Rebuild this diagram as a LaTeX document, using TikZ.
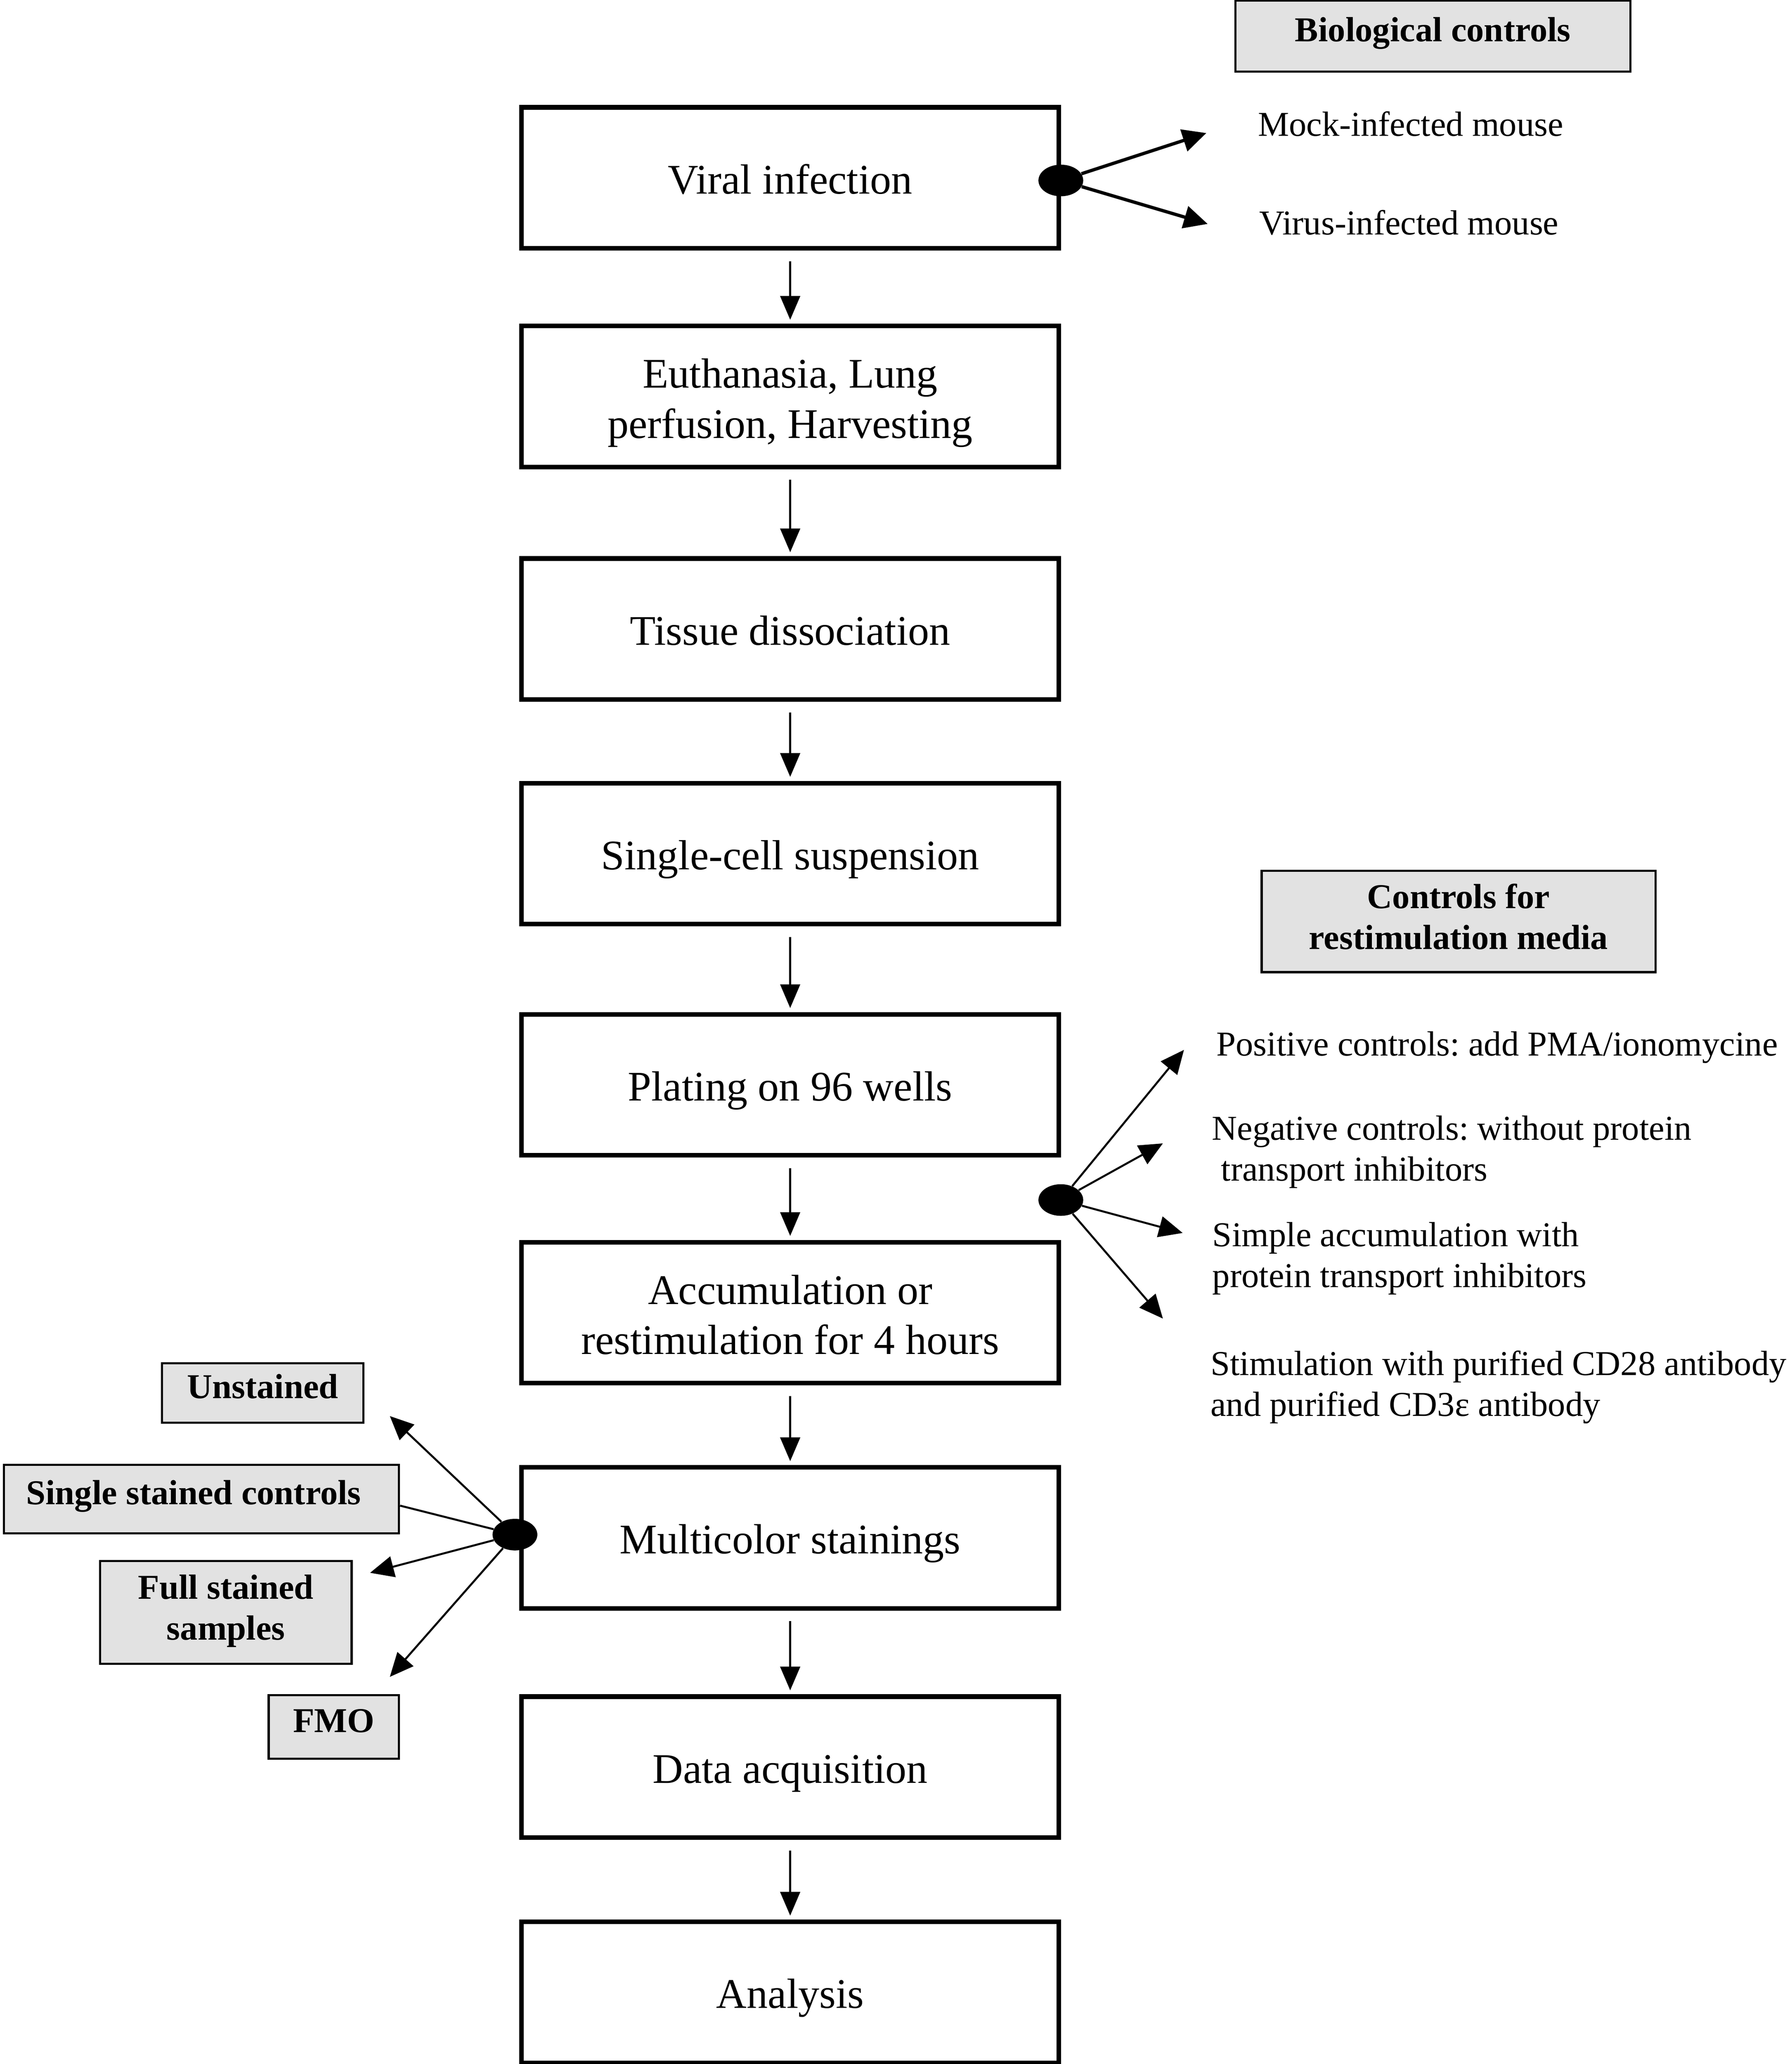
\documentclass[tikz,border=0pt]{standalone}
\usepackage{fontspec}
\setmainfont{Liberation Serif}
\usetikzlibrary{arrows.meta,shapes.geometric}
\definecolor{boxgray}{RGB}{226,226,226}
\newcommand\twolines[2]{\begin{tabular}[t]{@{}c@{}}#1\\#2\end{tabular}}
\frenchspacing
\begin{document}
\begin{tikzpicture}[x=1pt,y=-1pt,
  mainbox/.style={draw, line width=3.5pt, minimum width=408pt, minimum height=107pt, inner sep=0pt, font=\fontsize{32}{38}\selectfont, text height=24pt, text depth=0pt},
  maintwo/.style={mainbox, text height=24pt, text depth=37pt},
  graybox/.style={draw, fill=boxgray, line width=1.6pt, inner sep=0pt, font=\fontsize{26.5}{31}\selectfont\bfseries, text height=18pt, text depth=10pt},
  graytwo/.style={graybox, text height=18pt, text depth=38pt},
  sidetext/.style={anchor=west, inner sep=0pt, align=left, font=\fontsize{26.5}{31}\selectfont},
  blackdot/.style={ellipse, fill=black, minimum width=34pt, minimum height=24pt, inner sep=0pt},
  flow/.style={-{Triangle[length=18pt,width=15pt]}, line width=1.5pt},
  bioarrow/.style={-{Triangle[length=18pt,width=17pt]}, line width=2.5pt},
  sidearrow/.style={-{Triangle[length=18pt,width=16pt]}, line width=1.5pt},
  plainline/.style={line width=1.5pt}
]
\useasboundingbox (0,0) rectangle (1360.6,1566.9);

% main flow
\node[mainbox] (n1) at (600,135) {Viral infection};
\node[maintwo] (n2) at (600,301) {\twolines{Euthanasia, Lung}{perfusion, Harvesting}};
\node[mainbox] (n3) at (600,477.5) {Tissue dissociation};
\node[mainbox] (n4) at (600,648) {Single-cell suspension};
\node[mainbox] (n5) at (600,823.5) {Plating on 96 wells};
\node[maintwo] (n6) at (600,996.5) {\twolines{Accumulation or}{restimulation for 4 hours}};
\node[mainbox] (n7) at (600,1167.5) {Multicolor stainings};
\node[mainbox] (n8) at (600,1341.5) {Data acquisition};
\node[mainbox] (n9) at (600,1512.5) {Analysis};

\foreach \a/\b in {n1/n2,n2/n3,n3/n4,n4/n5,n5/n6,n6/n7,n7/n8,n8/n9}
  \draw[flow, shorten <=8pt, shorten >=3pt] (\a) -- (\b);

% biological controls
\node[graybox, minimum width=300pt, minimum height=54pt] (bio) at (1088,27.5) {Biological controls};
\node[blackdot] (d1) at (805.5,137) {};
\coordinate (t1) at (916,101);
\coordinate (t2) at (917,170);
\draw[bioarrow] (d1) -- (t1);
\draw[bioarrow] (d1) -- (t2);
\node[sidetext] (mock) at (955,94) {Mock-infected mouse};
\node[sidetext] (virus) at (956,169) {Virus-infected mouse};

% restimulation controls
\node[graytwo, minimum width=299pt, minimum height=77pt] (restim) at (1107.5,699.5) {\twolines{Controls for}{restimulation media}};
\node[blackdot] (d2) at (805.5,911) {};
\coordinate (p) at (899,797);
\coordinate (q) at (883,868);
\coordinate (r) at (898,936);
\coordinate (s) at (883,1001);
\draw[sidearrow] (d2) -- (p);
\draw[sidearrow] (d2) -- (q);
\draw[sidearrow] (d2) -- (r);
\draw[sidearrow] (d2) -- (s);
\node[sidetext] (pos) at (923.5,795) {Positive controls: add PMA/ionomycine};
\node[sidetext] (neg) at (920,874.5) {Negative controls: without protein\\\hspace*{7pt}transport inhibitors};
\node[sidetext] (simp) at (920.5,955.5) {Simple accumulation with\\protein transport inhibitors};
\node[sidetext] (stim) at (919,1053) {Stimulation with purified CD28 antibody\\and purified CD3ε antibody};

% staining controls
\node[graybox, minimum width=153pt, minimum height=45pt] (unst) at (199.5,1057.5) {Unstained};
\node[graybox, minimum width=300pt, minimum height=52pt] (single) at (153,1138) {Single stained controls\hspace*{12pt}};
\node[graytwo, minimum width=191pt, minimum height=78pt] (full) at (171.5,1224) {\twolines{Full stained}{samples}};
\node[graybox, minimum width=99pt, minimum height=48pt] (fmo) at (253.5,1311) {FMO};
\node[blackdot] (d3) at (391,1165) {};
\coordinate (u) at (296,1075);
\coordinate (f) at (281,1194);
\coordinate (m) at (296,1273);
\draw[sidearrow] (d3) -- (u);
\draw[plainline] (d3) -- ([yshift=-5pt]single.east);
\draw[sidearrow] (d3) -- (f);
\draw[sidearrow] (d3) -- (m);
\end{tikzpicture}
\end{document}
